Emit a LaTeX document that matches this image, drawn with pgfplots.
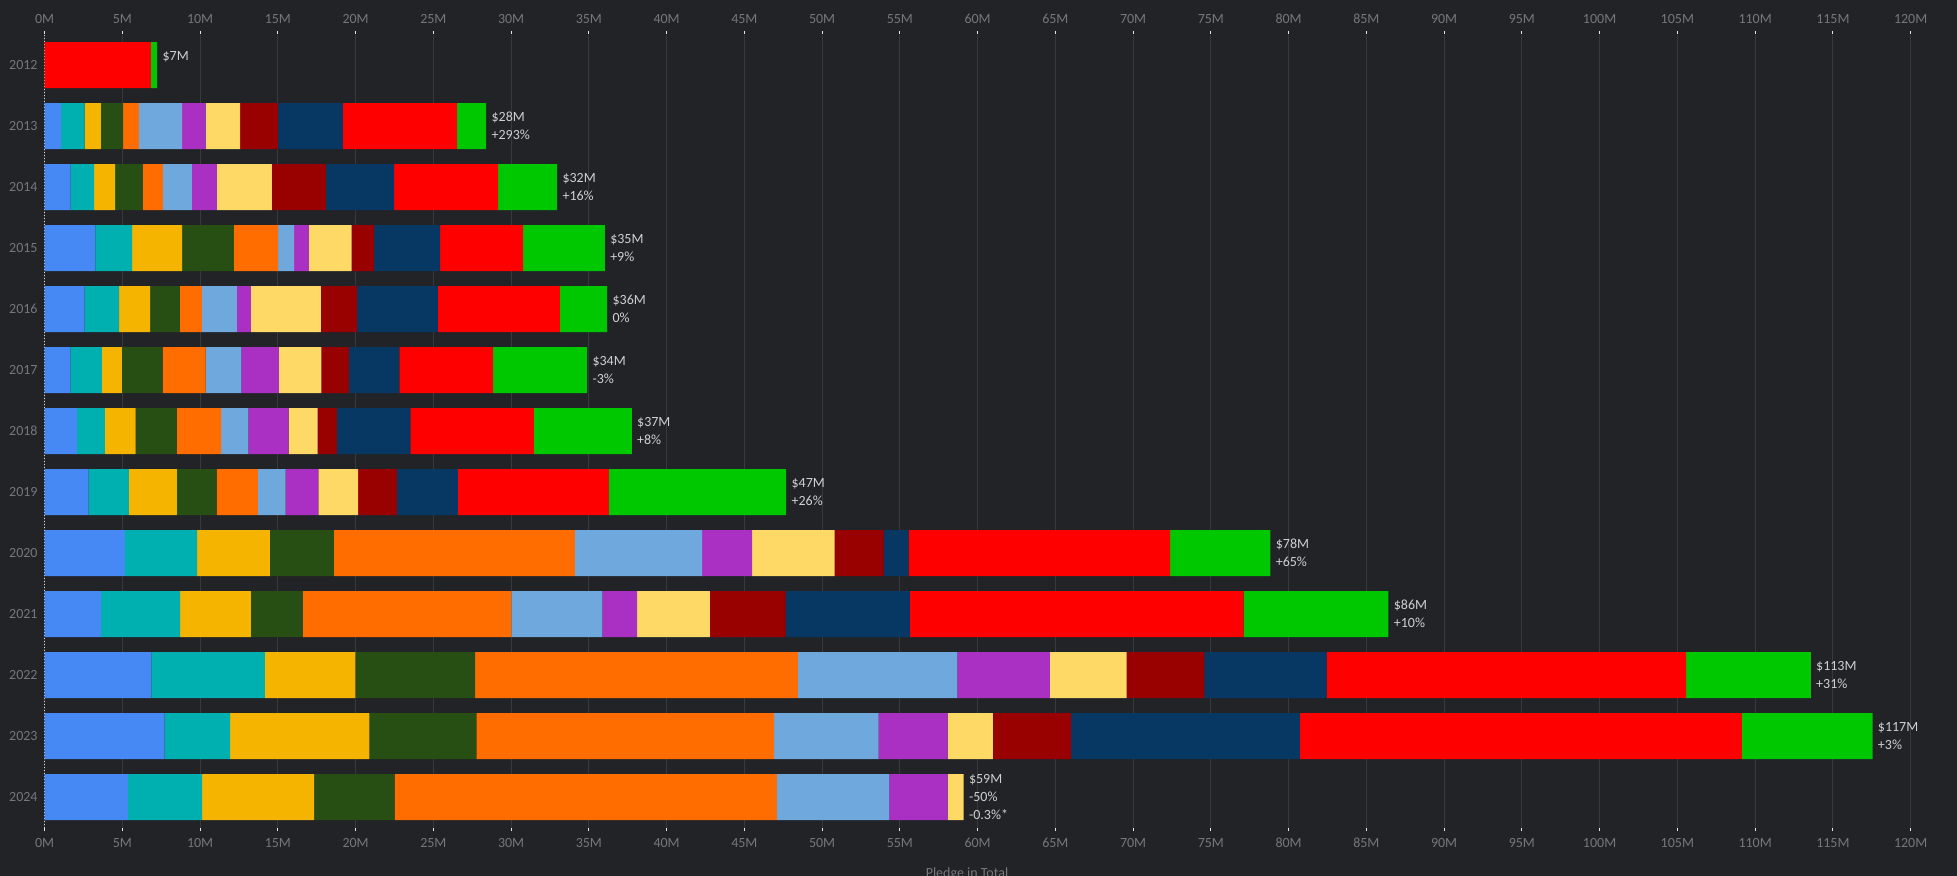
\documentclass[border=0pt]{standalone}
\usepackage{fontspec}
\setmainfont{Carlito}
\usepackage{pgfplots}
\pgfplotsset{compat=1.18}
\usepackage{pgfplotstable}

\definecolor{bg}{HTML}{212327}
\definecolor{gridc}{HTML}{36393E}
\definecolor{tickc}{HTML}{74777C}
\definecolor{labc}{HTML}{D0D0D0}
\definecolor{tickw}{HTML}{E6E6E6}
\definecolor{c1}{HTML}{4688F4}
\definecolor{c2}{HTML}{00AFB0}
\definecolor{c3}{HTML}{F4B400}
\definecolor{c4}{HTML}{274E13}
\definecolor{c5}{HTML}{FF6D00}
\definecolor{c6}{HTML}{6FA8DC}
\definecolor{c7}{HTML}{AA2FC3}
\definecolor{c8}{HTML}{FFD966}
\definecolor{c9}{HTML}{990000}
\definecolor{c10}{HTML}{073763}
\definecolor{c11}{HTML}{FF0000}
\definecolor{c12}{HTML}{00C800}

\pgfplotstableread{
y s1 s2 s3 s4 s5 s6 s7 s8 s9 s10 s11 s12
0 0 0 0 0 0 0 0 0 0 0 6.84 0.40
1 1.06 1.52 1.04 1.43 1.01 2.78 1.52 2.22 2.44 4.16 7.35 1.87
2 1.67 1.52 1.35 1.78 1.29 1.86 1.61 3.53 3.48 4.39 6.69 3.79
3 3.27 2.36 3.21 3.33 2.85 1.03 0.95 2.75 1.44 4.25 5.34 5.25
4 2.58 2.21 1.99 1.92 1.41 2.26 0.89 4.51 2.33 5.19 7.84 3.05
5 1.65 2.04 1.28 2.62 2.77 2.30 2.40 2.74 1.76 3.26 6.03 6.04
6 2.09 1.79 1.98 2.65 2.84 1.76 2.59 1.85 1.24 4.73 7.95 6.29
7 2.83 2.59 3.09 2.56 2.65 1.78 2.11 2.56 2.49 3.92 9.71 11.40
8 5.17 4.64 4.67 4.13 15.49 8.18 3.22 5.31 3.14 1.62 16.81 6.45
9 3.64 5.07 4.56 3.34 13.40 5.86 2.24 4.68 4.87 7.98 21.46 9.32
10 6.86 7.31 5.82 7.70 20.75 10.26 5.94 4.95 4.99 7.86 23.12 8.02
11 7.72 4.21 8.96 6.88 19.14 6.72 4.44 2.91 5.03 14.71 28.42 8.41
12 5.36 4.77 7.20 5.18 24.58 7.24 3.74 1.03 0 0 0 0
}\data

\tikzset{lab/.style={anchor=west, align=left, font=\fontsize{7}{9}\selectfont, text=labc, inner sep=0pt, xshift=2.5pt}}

\pgfplotsset{
  common/.style={
    at={(22.3pt,-17.25pt)}, anchor=north west,
    width=933pt, height=396.5pt, scale only axis,
    xmin=0, xmax=120, ymin=-0.5, ymax=12.5, y dir=reverse,
    xtick={0,5,...,120},
    xticklabels={0M,5M,10M,15M,20M,25M,30M,35M,40M,45M,50M,55M,60M,65M,70M,75M,80M,85M,90M,95M,100M,105M,110M,115M,120M},
    xtick align=outside, major tick length=1.75pt,
    xtick style={color=tickw, line width=0.5pt},
    tick label style={font=\fontsize{7}{8}\selectfont, text=tickc},
    separate axis lines,
    x axis line style={draw=none},
    clip=false,
  }
}

\begin{document}
\begin{tikzpicture}[x=1pt,y=1pt]
\fill[bg] (0,0) rectangle (978.5,-438);
\begin{axis}[common,
  axis x line*=bottom, axis y line*=left,
  y axis line style={color=white!85!black, line width=0.5pt, dash pattern=on 0.5pt off 1pt},
  xmajorgrids, grid style={gridc, line width=0.5pt},
  ytick={0,...,12},
  yticklabels={2012,2013,2014,2015,2016,2017,2018,2019,2020,2021,2022,2023,2024},
  ytick style={draw=none},
  xbar stacked, bar width=0.754,
]
\addplot[fill=c1, draw=none] table[x=s1,y=y]{\data};
\addplot[fill=c2, draw=none] table[x=s2,y=y]{\data};
\addplot[fill=c3, draw=none] table[x=s3,y=y]{\data};
\addplot[fill=c4, draw=none] table[x=s4,y=y]{\data};
\addplot[fill=c5, draw=none] table[x=s5,y=y]{\data};
\addplot[fill=c6, draw=none] table[x=s6,y=y]{\data};
\addplot[fill=c7, draw=none] table[x=s7,y=y]{\data};
\addplot[fill=c8, draw=none] table[x=s8,y=y]{\data};
\addplot[fill=c9, draw=none] table[x=s9,y=y]{\data};
\addplot[fill=c10, draw=none] table[x=s10,y=y]{\data};
\addplot[fill=c11, draw=none] table[x=s11,y=y]{\data};
\addplot[fill=c12, draw=none] table[x=s12,y=y]{\data};

\node[lab] at (axis cs:7.24,0) {\$7M\\\phantom{+0\%}};
\node[lab] at (axis cs:28.40,1) {\$28M\\+293\%};
\node[lab] at (axis cs:32.96,2) {\$32M\\+16\%};
\node[lab] at (axis cs:36.03,3) {\$35M\\+9\%};
\node[lab] at (axis cs:36.18,4) {\$36M\\0\%};
\node[lab] at (axis cs:34.89,5) {\$34M\\-3\%};
\node[lab] at (axis cs:37.76,6) {\$37M\\+8\%};
\node[lab] at (axis cs:47.69,7) {\$47M\\+26\%};
\node[lab] at (axis cs:78.83,8) {\$78M\\+65\%};
\node[lab] at (axis cs:86.42,9) {\$86M\\+10\%};
\node[lab] at (axis cs:113.58,10) {\$113M\\+31\%};
\node[lab] at (axis cs:117.55,11) {\$117M\\+3\%};
\node[lab] at (axis cs:59.10,12) {\$59M\\-50\%\\-0.3\%*};
\end{axis}
\begin{axis}[common,
  axis x line*=top, axis y line=none,
]
\end{axis}
\node[font=\fontsize{7}{8}\selectfont, text=tickc] at (483.5,-437) {Pledge in Total};
\pgfresetboundingbox
\path[use as bounding box] (0,0) rectangle (978.5,-438);
\end{tikzpicture}
\end{document}
